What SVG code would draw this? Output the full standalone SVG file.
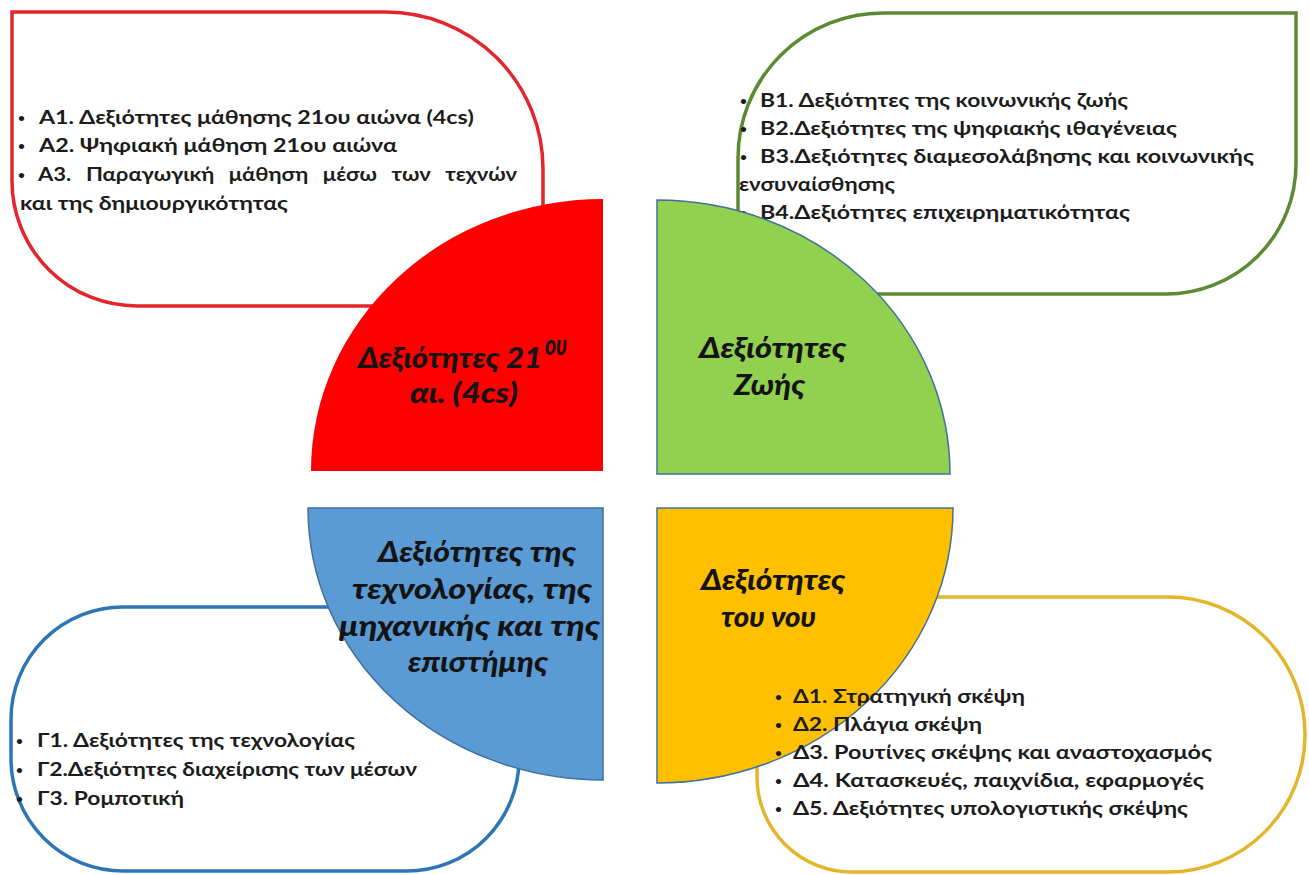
<svg xmlns="http://www.w3.org/2000/svg" width="1309" height="875" viewBox="0 0 1309 875">
<style>
.box{fill:none;stroke-width:3.5}
.t{font-family:Lato,'Noto Sans',sans-serif;font-weight:bold;font-size:19px;fill:#1c1c1c}
.b{font-family:Lato,'Noto Sans',sans-serif;font-weight:bold;font-size:12px;fill:#1c1c1c}
.q{font-family:Lato,'Noto Sans',sans-serif;font-weight:900;font-style:italic;font-size:28px;fill:#141414}
.ql{stroke:#41719C;stroke-width:1.5}
</style>
<rect width="1309" height="875" fill="#ffffff"/>

<g id="box-a">
<path class="box" stroke="#E3262D" d="M12,12 H386 A157,157 0 0 1 543,169 V306 H137 A125,125 0 0 1 12,181 Z"/>
<text class="b" x="18" y="122">•</text>
<text class="t" x="39" y="124" textLength="435" lengthAdjust="spacingAndGlyphs">Α1. Δεξιότητες μάθησης 21ου αιώνα (4cs)</text>
<text class="b" x="18" y="150">•</text>
<text class="t" x="39" y="152" textLength="358" lengthAdjust="spacingAndGlyphs">Α2. Ψηφιακή μάθηση 21ου αιώνα</text>
<text class="b" x="18" y="179">•</text>
<text class="t" x="38" y="181" word-spacing="8" textLength="479" lengthAdjust="spacingAndGlyphs">Α3. Παραγωγική μάθηση μέσω των τεχνών</text>
<text class="t" x="20" y="210" textLength="268" lengthAdjust="spacingAndGlyphs">και της δημιουργικότητας</text>
</g>

<g id="box-b">
<path class="box" stroke="#5B8A33" d="M738,294 V158 A145,145 0 0 1 883,13 H1296 V164 A130,130 0 0 1 1166,294 Z"/>
<text class="b" x="740" y="105">•</text>
<text class="t" x="760" y="107" textLength="368" lengthAdjust="spacingAndGlyphs">Β1. Δεξιότητες της κοινωνικής ζωής</text>
<text class="b" x="740" y="133">•</text>
<text class="t" x="760" y="135" textLength="417" lengthAdjust="spacingAndGlyphs">Β2.Δεξιότητες της ψηφιακής ιθαγένειας</text>
<text class="b" x="740" y="161">•</text>
<text class="t" x="760" y="163" textLength="494" lengthAdjust="spacingAndGlyphs">Β3.Δεξιότητες διαμεσολάβησης και κοινωνικής</text>
<text class="t" x="739" y="191" textLength="156" lengthAdjust="spacingAndGlyphs">ενσυναίσθησης</text>
<text class="b" x="740" y="217">•</text>
<text class="t" x="760" y="219" textLength="370" lengthAdjust="spacingAndGlyphs">Β4.Δεξιότητες επιχειρηματικότητας</text>
</g>

<g id="box-c">
<rect class="box" stroke="#2E75B6" x="11" y="607" width="508" height="264" rx="112" ry="112"/>
<text class="b" x="16" y="745">•</text>
<text class="t" x="37" y="747" textLength="318" lengthAdjust="spacingAndGlyphs">Γ1. Δεξιότητες της τεχνολογίας</text>
<text class="b" x="16" y="774">•</text>
<text class="t" x="37" y="776" textLength="380" lengthAdjust="spacingAndGlyphs">Γ2.Δεξιότητες διαχείρισης των μέσων</text>
<text class="b" x="16" y="803">•</text>
<text class="t" x="37" y="805" textLength="147" lengthAdjust="spacingAndGlyphs">Γ3. Ρομποτική</text>
</g>

<g id="box-d">
<path class="box" stroke="#E2B52A" d="M852,597 H1168 A137,137 0 0 1 1305,734 V735 A137,137 0 0 1 1168,872 H852 A95,95 0 0 1 757,777 V692 A95,95 0 0 1 852,597 Z"/>
</g>

<g id="quarter-a">
<path fill="#FF0000" d="M603,471 H311 A292,272 0 0 1 603,199 Z"/>
<text class="q" x="358" y="368" textLength="184" lengthAdjust="spacingAndGlyphs">Δεξιότητες 21</text>
<text class="q" x="545" y="355" font-size="12" font-weight="bold" textLength="22" lengthAdjust="spacingAndGlyphs">ου</text>
<text class="q" x="410" y="403" textLength="108" lengthAdjust="spacingAndGlyphs">αι. (4cs)</text>
</g>

<g id="quarter-b">
<path class="ql" fill="#92D050" d="M657,474 V200 A293,274 0 0 1 950,474 Z"/>
<text class="q" x="699" y="358" textLength="147" lengthAdjust="spacingAndGlyphs">Δεξιότητες</text>
<text class="q" x="734" y="395" textLength="71" lengthAdjust="spacingAndGlyphs">Ζωής</text>
</g>

<g id="quarter-c">
<path fill="#5B9BD5" stroke="#41719C" stroke-width="1.5" d="M603,508 V780 A295,272 0 0 1 308,508 Z"/>
<text class="q" x="378" y="562" textLength="198" lengthAdjust="spacingAndGlyphs">Δεξιότητες της</text>
<text class="q" x="352" y="599" textLength="240" lengthAdjust="spacingAndGlyphs">τεχνολογίας, της</text>
<text class="q" x="339" y="636" textLength="261" lengthAdjust="spacingAndGlyphs">μηχανικής και της</text>
<text class="q" x="408" y="672" textLength="140" lengthAdjust="spacingAndGlyphs">επιστήμης</text>
</g>

<g id="quarter-d">
<path class="ql" fill="#FFC000" d="M657,508 H953 A296,275 0 0 1 657,783 Z"/>
<text class="q" x="701" y="590" textLength="144" lengthAdjust="spacingAndGlyphs">Δεξιότητες</text>
<text class="q" x="721" y="627" textLength="95" lengthAdjust="spacingAndGlyphs">του νου</text>
</g>

<g id="box-d-text">
<text class="b" x="775" y="701">•</text>
<text class="t" x="793" y="703" textLength="232" lengthAdjust="spacingAndGlyphs">Δ1. Στρατηγική σκέψη</text>
<text class="b" x="775" y="729">•</text>
<text class="t" x="793" y="731" textLength="189" lengthAdjust="spacingAndGlyphs">Δ2. Πλάγια σκέψη</text>
<text class="b" x="775" y="757">•</text>
<text class="t" x="793" y="759" textLength="419" lengthAdjust="spacingAndGlyphs">Δ3. Ρουτίνες σκέψης και αναστοχασμός</text>
<text class="b" x="775" y="785">•</text>
<text class="t" x="793" y="787" textLength="411" lengthAdjust="spacingAndGlyphs">Δ4. Κατασκευές, παιχνίδια, εφαρμογές</text>
<text class="b" x="775" y="813">•</text>
<text class="t" x="793" y="815" textLength="395" lengthAdjust="spacingAndGlyphs">Δ5. Δεξιότητες υπολογιστικής σκέψης</text>
</g>
</svg>
